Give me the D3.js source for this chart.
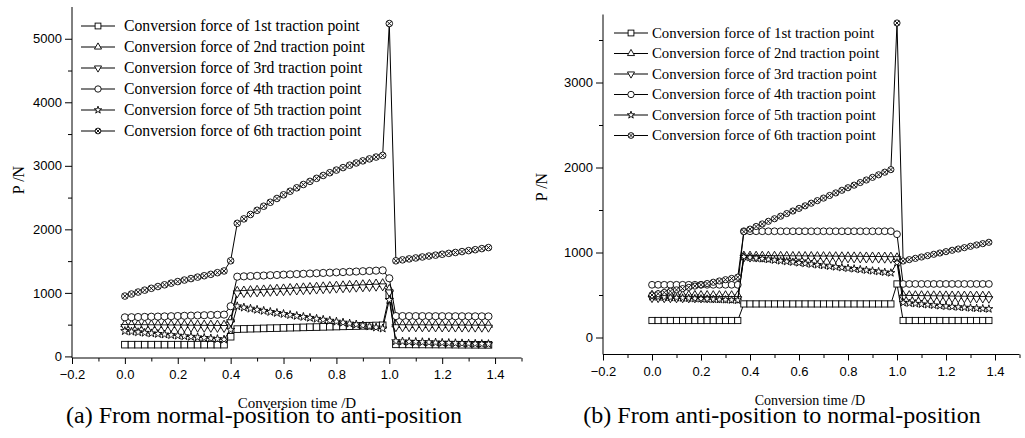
<!DOCTYPE html>
<html>
<head>
<meta charset="utf-8">
<script src="https://cdn.jsdelivr.net/npm/d3@7"></script>
<style>
  body { margin: 0; background: #fff; }
  svg { display: block; }
  .tick text { font-family: "Liberation Sans", Arial, sans-serif; font-size: 13px; fill: #000; }
  .serif { font-family: "Liberation Serif", "Times New Roman", serif; fill: #000; }
</style>
</head>
<body>
<div id="chart"></div>
<script>
// conversion time /D, panel (a) and panel (b)
const timesA = [0, 0.025, 0.05, 0.075, 0.1, 0.125, 0.15, 0.175, 0.2, 0.225, 0.25, 0.275, 0.3, 0.325, 0.35, 0.375,
    0.4,
    0.425, 0.45, 0.475, 0.5, 0.525, 0.55, 0.575, 0.6, 0.625, 0.65, 0.675, 0.7, 0.725, 0.75, 0.775, 0.8, 0.825, 0.85, 0.875, 0.9, 0.925, 0.95, 0.975,
    1.0,
    1.025, 1.05, 1.075, 1.1, 1.125, 1.15, 1.175, 1.2, 1.225, 1.25, 1.275, 1.3, 1.325, 1.35, 1.375];
const timesB = [0, 0.025, 0.05, 0.075, 0.1, 0.125, 0.15, 0.175, 0.2, 0.225, 0.25, 0.275, 0.3, 0.325, 0.35,
    0.375, 0.4, 0.425, 0.45, 0.475, 0.5, 0.525, 0.55, 0.575, 0.6, 0.625, 0.65, 0.675, 0.7, 0.725, 0.75, 0.775, 0.8, 0.825, 0.85, 0.875, 0.9, 0.925, 0.95, 0.975,
    1.0,
    1.025, 1.05, 1.075, 1.1, 1.125, 1.15, 1.175, 1.2, 1.225, 1.25, 1.275, 1.3, 1.325, 1.35, 1.375];

const seriesNames = [
    "Conversion force of 1st traction point",
    "Conversion force of 2nd traction point",
    "Conversion force of 3rd traction point",
    "Conversion force of 4th traction point",
    "Conversion force of 5th traction point",
    "Conversion force of 6th traction point"
];

// (a) From normal-position to anti-position, P /N
const a1 = [185, 185, 185, 185, 185, 185, 185, 185, 185, 185, 185, 185, 185, 185, 185, 185, 310,
    430, 433, 436, 438, 441, 444, 446, 449, 452, 454, 457, 460, 462, 465, 468, 470, 473, 476, 478, 481, 484, 487, 490, 960,
    190, 189, 189, 188, 188, 187, 187, 186, 186, 185, 184, 184, 183, 182, 182];
const a2 = [505, 504, 504, 503, 503, 502, 502, 501, 501, 500, 500, 499, 499, 498, 498, 497, 580,
    1030, 1035, 1041, 1046, 1052, 1057, 1063, 1068, 1074, 1079, 1085, 1090, 1095, 1101, 1106, 1112, 1117, 1123, 1128, 1134, 1139, 1145, 1150, 1060,
    500, 500, 499, 499, 499, 498, 498, 498, 497, 497, 497, 496, 496, 496, 495];
const a3 = [465, 464, 463, 462, 461, 460, 459, 458, 457, 456, 455, 454, 453, 452, 451, 450, 540,
    995, 1000, 1005, 1010, 1015, 1020, 1025, 1030, 1035, 1040, 1045, 1050, 1055, 1060, 1065, 1070, 1075, 1080, 1085, 1090, 1095, 1100, 1105, 1010,
    462, 461, 461, 460, 460, 459, 459, 458, 458, 457, 457, 456, 456, 455, 455];
const a4 = [615, 617, 620, 622, 625, 627, 630, 633, 636, 639, 642, 645, 648, 651, 655, 658, 790,
    1255, 1260, 1264, 1269, 1273, 1278, 1282, 1287, 1291, 1296, 1300, 1305, 1309, 1314, 1318, 1323, 1327, 1332, 1336, 1341, 1345, 1350, 1355, 1230,
    635, 635, 634, 634, 634, 633, 633, 633, 632, 632, 632, 631, 631, 631, 630];
const a5 = [400, 391, 382, 373, 364, 355, 346, 337, 328, 319, 310, 301, 292, 283, 274, 266, 420,
    790, 770, 752, 735, 718, 701, 685, 669, 653, 638, 623, 608, 593, 578, 563, 548, 533, 518, 503, 488, 472, 456, 440, 890,
    240, 236, 232, 229, 225, 222, 218, 215, 212, 209, 206, 203, 200, 197, 195];
const a6 = [950, 982, 1013, 1043, 1072, 1100, 1127, 1153, 1178, 1202, 1225, 1248, 1270, 1292, 1318, 1345, 1505,
    2095, 2165, 2234, 2300, 2364, 2426, 2486, 2544, 2600, 2654, 2706, 2755, 2803, 2848, 2892, 2933, 2972, 3010, 3045, 3078, 3109, 3138, 3164, 5240,
    1505, 1520, 1535, 1550, 1565, 1580, 1594, 1608, 1622, 1636, 1650, 1665, 1680, 1697, 1713];

// (b) From anti-position to normal-position, P /N
const b1 = [200, 200, 200, 200, 200, 200, 200, 200, 200, 200, 200, 200, 200, 200, 200,
    395, 395, 395, 395, 395, 395, 395, 395, 395, 395, 395, 395, 395, 395, 395, 395, 395, 395, 395, 395, 395, 395, 395, 395, 395, 630,
    200, 200, 200, 200, 200, 200, 200, 200, 200, 200, 200, 200, 200, 200, 200];
const b2 = [505, 505, 504, 504, 503, 503, 502, 502, 501, 501, 500, 500, 499, 499, 498,
    965, 965, 964, 964, 963, 963, 962, 962, 961, 961, 960, 960, 959, 959, 958, 958, 957, 957, 956, 956, 955, 955, 954, 954, 953, 945,
    500, 500, 499, 499, 498, 498, 497, 497, 496, 496, 495, 495, 494, 494, 493];
const b3 = [462, 462, 461, 461, 460, 460, 459, 459, 458, 458, 457, 457, 456, 456, 455,
    940, 939, 939, 938, 938, 937, 936, 936, 935, 935, 934, 933, 933, 932, 932, 931, 930, 930, 929, 929, 928, 927, 927, 926, 925, 925,
    470, 469, 468, 467, 466, 465, 464, 463, 462, 461, 460, 459, 458, 457, 455];
const b4 = [620, 620, 620, 620, 620, 620, 620, 620, 620, 620, 620, 620, 620, 620, 620,
    1250, 1250, 1250, 1250, 1250, 1250, 1250, 1250, 1250, 1250, 1250, 1250, 1250, 1250, 1250, 1250, 1250, 1250, 1250, 1250, 1250, 1250, 1250, 1250, 1250, 1215,
    630, 630, 630, 630, 630, 630, 630, 630, 630, 630, 630, 630, 630, 630, 630];
const b5 = [480, 477, 474, 471, 468, 465, 462, 459, 456, 453, 450, 447, 444, 441, 438,
    950, 942, 934, 926, 918, 910, 902, 894, 887, 879, 871, 863, 855, 847, 839, 831, 823, 815, 808, 800, 792, 784, 776, 768, 760, 880,
    410, 404, 398, 392, 386, 380, 374, 368, 363, 358, 353, 348, 344, 340, 336];
const b6 = [500, 515, 530, 545, 560, 575, 590, 605, 620, 635, 650, 665, 680, 695, 710,
    1245, 1275, 1306, 1336, 1367, 1397, 1427, 1458, 1488, 1519, 1549, 1580, 1610, 1640, 1671, 1701, 1732, 1762, 1792, 1823, 1853, 1884, 1914, 1945, 1975, 3700,
    900, 916, 931, 947, 963, 979, 994, 1010, 1026, 1041, 1057, 1073, 1089, 1104, 1120];

const xTicks = [-0.2, 0.0, 0.2, 0.4, 0.6, 0.8, 1.0, 1.2, 1.4];
const yTicksA = [0, 1000, 2000, 3000, 4000, 5000];
const yTicksB = [0, 1000, 2000, 3000];

const captions = ["(a) From normal-position to anti-position", "(b) From anti-position to normal-position"];
const markerKinds = ["square", "triangle", "triangleDown", "circle", "star", "crossCircle"];

const svg = d3.select("#chart").append("svg")
    .attr("width", 1025)
    .attr("height", 438);

function drawMarker(g, kind, r) {
    g.attr("fill", "#fff").attr("stroke", "#000").attr("stroke-width", 0.9);
    if (kind === "square") {
        g.append("rect").attr("x", -r).attr("y", -r).attr("width", 2 * r).attr("height", 2 * r);
    } else if (kind === "triangle") {
        g.append("path").attr("d", d3.symbol(d3.symbolTriangle, 26 * r * r / 10)());
    } else if (kind === "triangleDown") {
        g.append("path").attr("d", d3.symbol(d3.symbolTriangle, 26 * r * r / 10)()).attr("transform", "rotate(180)");
    } else if (kind === "circle") {
        g.append("circle").attr("r", r + 0.3);
    } else if (kind === "star") {
        g.append("path").attr("d", d3.symbol(d3.symbolStar, 20 * r * r / 10)());
    } else {
        g.append("circle").attr("r", r);
        let k = r * 0.72;
        g.append("path").attr("d", `M${-k},${-k}L${k},${k}M${-k},${k}L${k},${-k}`);
    }
}

function panel(cfg) {
    let x = d3.scaleLinear().domain([-0.2, 1.5]).range([cfg.left, cfg.right]);
    let y = d3.scaleLinear().domain(cfg.yDomain).range([cfg.bottom, cfg.top]);
    let g = svg.append("g");

    // axes, minor ticks first
    let yMinor = d3.range(500, cfg.yDomain[1], 1000);
    g.append("g")
        .attr("transform", `translate(${cfg.left},0)`)
        .call(d3.axisLeft(y).tickValues(yMinor).tickSize(4).tickFormat(""))
        .call(a => a.select(".domain").remove());
    g.append("g")
        .attr("transform", `translate(${cfg.left},0)`)
        .call(d3.axisLeft(y).tickValues(cfg.yTicks).tickSize(7).tickPadding(3).tickFormat(d3.format("d")))
        .call(a => a.select(".domain").attr("d", `M0,${cfg.bottom}V${cfg.top}`));
    g.append("g")
        .attr("transform", `translate(0,${cfg.bottom})`)
        .call(d3.axisBottom(x).tickValues([-0.1, 0.1, 0.3, 0.5, 0.7, 0.9, 1.1, 1.3, 1.5]).tickSize(3.5).tickFormat(""))
        .call(a => a.select(".domain").remove());
    g.append("g")
        .attr("transform", `translate(0,${cfg.bottom})`)
        .call(d3.axisBottom(x).tickValues(xTicks).tickSize(6).tickPadding(6).tickFormat(d3.format(".1f")))
        .call(a => a.select(".domain").attr("d", `M${cfg.left},0H${cfg.right}`));
    g.selectAll(".domain, .tick line").attr("stroke", "#000").attr("stroke-width", 1);

    // series
    cfg.series.forEach(function (vals, i) {
        let pts = cfg.times.map((t, j) => [t, vals[j]]);
        g.append("path")
            .attr("d", d3.line().x(d => x(d[0])).y(d => y(d[1]))(pts))
            .attr("fill", "none")
            .attr("stroke", "#000")
            .attr("stroke-width", 1);
        g.selectAll(".m" + i)
            .data(pts)
            .enter().append("g")
            .attr("transform", d => `translate(${x(d[0])},${y(d[1])})`)
            .each(function () { drawMarker(d3.select(this), markerKinds[i], cfg.r); });
    });

    // legend
    let legend = g.selectAll(".legend")
        .data(seriesNames)
        .enter().append("g")
        .attr("transform", (d, i) => `translate(${cfg.legX},${cfg.legY + i * cfg.legStep})`);
    legend.append("line")
        .attr("x1", 0).attr("x2", 34)
        .attr("stroke", "#000").attr("stroke-width", 1);
    legend.each(function (d, i) {
        let m = d3.select(this).append("g").attr("transform", "translate(17,0)");
        drawMarker(m, markerKinds[i], 2.9);
    });
    legend.append("text")
        .attr("class", "serif")
        .attr("x", cfg.legText)
        .attr("dy", "0.33em")
        .style("font-size", cfg.legFont + "px")
        .text(d => d);

    // axis titles and caption
    g.append("text")
        .attr("class", "serif")
        .attr("transform", `translate(${cfg.yTitleX},${cfg.yTitleY}) rotate(-90)`)
        .attr("text-anchor", "middle")
        .style("font-size", "16px")
        .text("P /N");
    g.append("text")
        .attr("class", "serif")
        .attr("x", cfg.xTitleX).attr("y", cfg.xTitleY)
        .attr("text-anchor", "middle")
        .style("font-size", cfg.xTitleFont + "px")
        .text("Conversion time /D");
    g.append("text")
        .attr("class", "serif")
        .attr("x", cfg.capX).attr("y", 423)
        .attr("text-anchor", "middle")
        .style("font-size", "24px")
        .text(cfg.caption);
}

panel({
    left: 72, right: 521.5, top: 7, bottom: 358,
    yDomain: [-25, 5500], yTicks: yTicksA,
    times: timesA, series: [a1, a2, a3, a4, a5, a6], r: 3.3,
    legX: 81, legY: 26, legStep: 21, legText: 43, legFont: 15.7,
    yTitleX: 23.5, yTitleY: 180,
    xTitleX: 297, xTitleY: 408, xTitleFont: 15,
    capX: 264, caption: captions[0]
});

panel({
    left: 603, right: 1019.5, top: 14.5, bottom: 354.5,
    yDomain: [-200, 3800], yTicks: yTicksB,
    times: timesB, series: [b1, b2, b3, b4, b5, b6], r: 3.1,
    legX: 614, legY: 33, legStep: 20.5, legText: 38, legFont: 14.8,
    yTitleX: 547, yTitleY: 187,
    xTitleX: 810, xTitleY: 405, xTitleFont: 14,
    capX: 782, caption: captions[1]
});
</script>
</body>
</html>
